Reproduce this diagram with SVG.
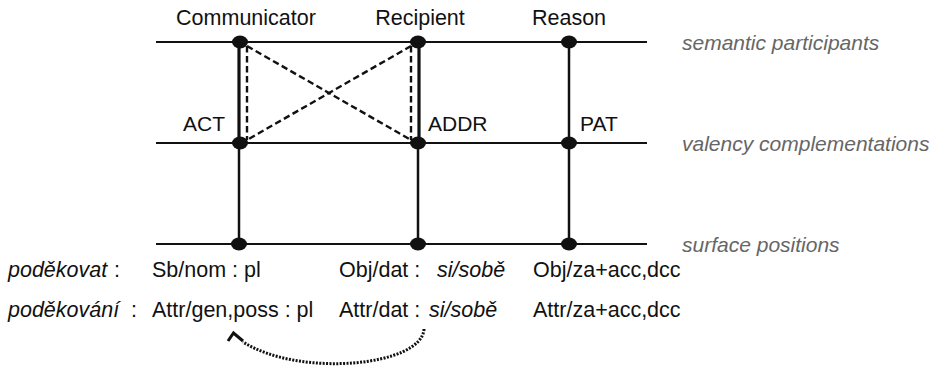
<svg xmlns="http://www.w3.org/2000/svg" width="933" height="367" viewBox="0 0 933 367">
<style>
text{font-family:"Liberation Sans",Arial,sans-serif;fill:#111;font-size:21px}
.top{font-size:21.5px;text-anchor:middle}
.row{font-size:21.5px}
.lev{fill:#666;font-style:italic}
.it{font-style:italic}
.h{stroke:#111;stroke-width:2;fill:none}
.v{stroke:#111;stroke-width:2.5;fill:none}
.vt{stroke:#111;stroke-width:3.2;fill:none}
.d{stroke:#111;stroke-width:2.4;stroke-dasharray:6.5,3.5;fill:none}
.dot{fill:#111}
</style>
<rect width="933" height="367" fill="#fff"/>
<g id="levels">
<line class="h" x1="156" y1="42" x2="647" y2="42"/>
<line class="h" x1="156" y1="143" x2="647" y2="143"/>
<line class="h" x1="156" y1="244" x2="647" y2="244"/>
<text class="lev" x="682" y="50">semantic participants</text>
<text class="lev" x="682" y="151">valency complementations</text>
<text class="lev" x="682" y="252">surface positions</text>
</g>
<g id="connectors">
<line class="vt" x1="239" y1="42" x2="239" y2="143"/>
<line class="d" x1="247" y1="46" x2="247" y2="140"/>
<line class="vt" x1="419" y1="42" x2="419" y2="143"/>
<line class="d" x1="411" y1="46" x2="411" y2="140"/>
<line class="d" x1="247" y1="46" x2="411" y2="140"/>
<line class="d" x1="411" y1="46" x2="247" y2="140"/>
<line class="v" x1="239" y1="143" x2="239" y2="244"/>
<line class="v" x1="418" y1="143" x2="418" y2="244"/>
<line class="v" x1="569" y1="42" x2="569" y2="244"/>
<path d="M 424 329 C 422 366, 300 378, 243 342" stroke="#111" stroke-width="3" stroke-dasharray="2,1.4" fill="none"/>
<polyline points="228,341 233.5,333 243,341" stroke="#111" stroke-width="3" stroke-linejoin="miter" fill="none"/>
</g>
<g id="communicator"><ellipse class="dot" cx="240" cy="42" rx="8" ry="6.5"/><text class="top" x="246" y="25">Communicator</text></g>
<g id="recipient"><ellipse class="dot" cx="418" cy="42" rx="8" ry="6.5"/><text class="top" x="420" y="25">Recipient</text></g>
<g id="reason"><ellipse class="dot" cx="569" cy="42" rx="8" ry="6.5"/><text class="top" x="569" y="25">Reason</text></g>
<g id="act"><ellipse class="dot" cx="240" cy="143" rx="8" ry="6.5"/><text x="225" y="131" text-anchor="end">ACT</text></g>
<g id="addr"><ellipse class="dot" cx="418" cy="143" rx="8" ry="6.5"/><text x="428" y="131">ADDR</text></g>
<g id="pat"><ellipse class="dot" cx="569" cy="143" rx="8" ry="6.5"/><text x="580" y="131">PAT</text></g>
<g id="surf1"><ellipse class="dot" cx="239" cy="244" rx="8" ry="6.5"/></g>
<g id="surf2"><ellipse class="dot" cx="418" cy="244" rx="8" ry="6.5"/></g>
<g id="surf3"><ellipse class="dot" cx="569" cy="244" rx="8" ry="6.5"/></g>
<g id="row1">
<text class="row it" x="8" y="277">poděkovat</text>
<text class="row" x="114" y="277">:</text>
<text class="row" x="152" y="277">Sb/nom : pl</text>
<text class="row" x="339" y="277">Obj/dat :</text>
<text class="row it" x="437" y="277">si/sobě</text>
<text class="row" x="533" y="277">Obj/za+acc,dcc</text>
</g>
<g id="row2">
<text class="row it" x="8" y="317">poděkování</text>
<text class="row" x="131" y="317">:</text>
<text class="row" x="152" y="317">Attr/gen,poss : pl</text>
<text class="row" x="339" y="317">Attr/dat :</text>
<text class="row it" x="429" y="317">si/sobě</text>
<text class="row" x="533" y="317">Attr/za+acc,dcc</text>
</g>
</svg>
